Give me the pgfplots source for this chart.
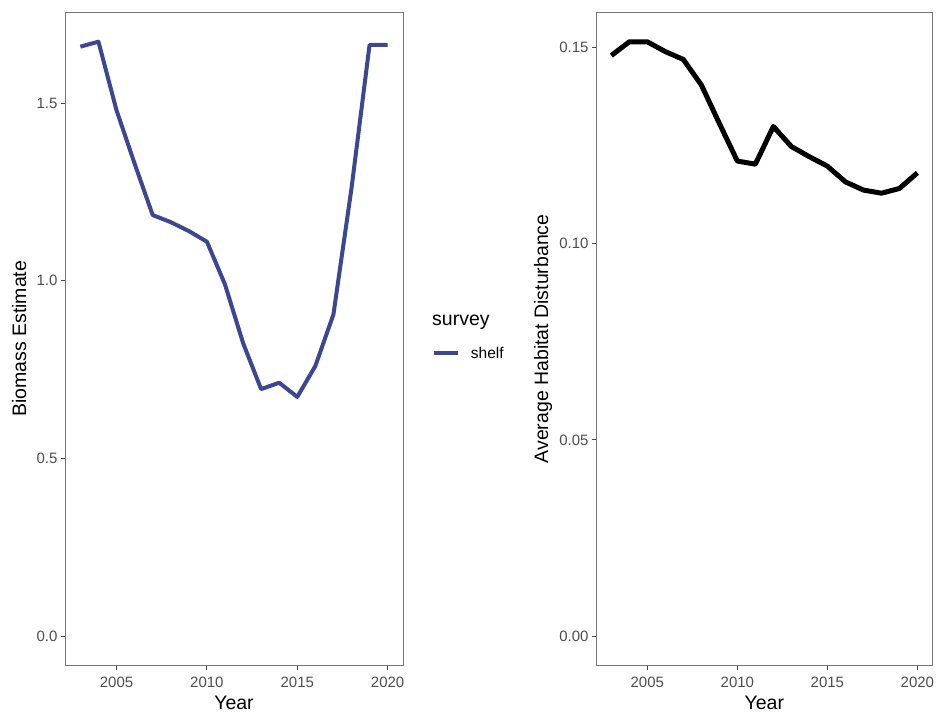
\documentclass[border=0pt]{standalone}
\usepackage{fontspec}
\setmainfont{Liberation Sans}
\usepackage{pgfplots}
\pgfplotsset{compat=1.18}
\definecolor{shelfc}{RGB}{60,70,145}
\definecolor{framec}{RGB}{120,120,120}
\definecolor{tickc}{RGB}{70,70,70}
\definecolor{ticklab}{RGB}{77,77,77}
\pgfplotsset{
 myaxis/.style={
  scale only axis, height=653.7pt,
  axis line style={framec, line width=0.9pt},
  tick style={tickc, line width=0.9pt},
  tick align=outside, major tick length=4pt,
  xtick pos=bottom, ytick pos=left,
  xmin=2002.15, xmax=2020.85,
  xtick={2005,2010,2015,2020},
  /pgf/number format/assume math mode=true,
  x tick label style={font=\fontsize{15}{18}\selectfont, text=ticklab, yshift=-3.5pt, /pgf/number format/1000 sep={}},
  y tick label style={font=\fontsize{15}{18}\selectfont, text=ticklab},
  every axis x label/.style={at={(axis description cs:0.5,0)}, anchor=center, yshift=-37pt, font=\fontsize{19.5}{22}\selectfont},
  xlabel={Year},
 }
}
\begin{document}
\begin{tikzpicture}
\path[use as bounding box] (0pt,0pt) rectangle (938pt,713pt);
\begin{axis}[myaxis,
  at={(65pt,47.3pt)}, anchor=south west, width=338pt,
  ymin=-0.0836, ymax=1.7566,
  ytick={0,0.5,1,1.5},
  y tick label style={/pgf/number format/.cd, fixed, fixed zerofill, precision=1},
  every axis y label/.style={at={(axis description cs:-0.136,0.5)}, rotate=90, anchor=center, font=\fontsize{19.5}{22}\selectfont},
  ylabel={Biomass Estimate},
  legend style={at={(axis description cs:1.085,0.478)}, anchor=west, draw=none, fill=none, inner sep=0pt, font=\fontsize{15.5}{18}\selectfont, nodes={inner sep=0pt}, column sep=11pt},
  legend image code/.code={\draw[#1, line width=4pt] (0pt,0pt) -- (24pt,0pt);},
]
\addplot[shelfc, line width=4pt, line join=round] coordinates {
(2003,1.659) (2004,1.673) (2005,1.48) (2006,1.33) (2007,1.185) (2008,1.165)
(2009,1.14) (2010,1.11) (2011,0.99) (2012,0.825) (2013,0.695) (2014,0.713)
(2015,0.673) (2016,0.76) (2017,0.905) (2018,1.26) (2019,1.664) (2020,1.664)};
\addlegendentry{shelf}
\end{axis}
\node[anchor=west, inner sep=0pt, font=\fontsize{19.5}{22}\selectfont] at (432pt,391pt) {survey};
\begin{axis}[myaxis,
  at={(596pt,47.3pt)}, anchor=south west, width=336.7pt,
  ymin=-0.00757, ymax=0.1591,
  ytick={0,0.05,0.1,0.15},
  y tick label style={/pgf/number format/.cd, fixed, fixed zerofill, precision=2},
  every axis y label/.style={at={(axis description cs:-0.157,0.5)}, rotate=90, anchor=center, font=\fontsize{19.5}{22}\selectfont},
  ylabel={Average Habitat Disturbance},
]
\addplot[black, line width=5pt, line join=round] coordinates {
(2003,0.148) (2004,0.1515) (2005,0.1515) (2006,0.149) (2007,0.147) (2008,0.1405)
(2009,0.1307) (2010,0.1211) (2011,0.1203) (2012,0.1299) (2013,0.1248) (2014,0.1222)
(2015,0.1198) (2016,0.1158) (2017,0.1137) (2018,0.1129) (2019,0.1141) (2020,0.1181)};
\end{axis}
\end{tikzpicture}
\end{document}
